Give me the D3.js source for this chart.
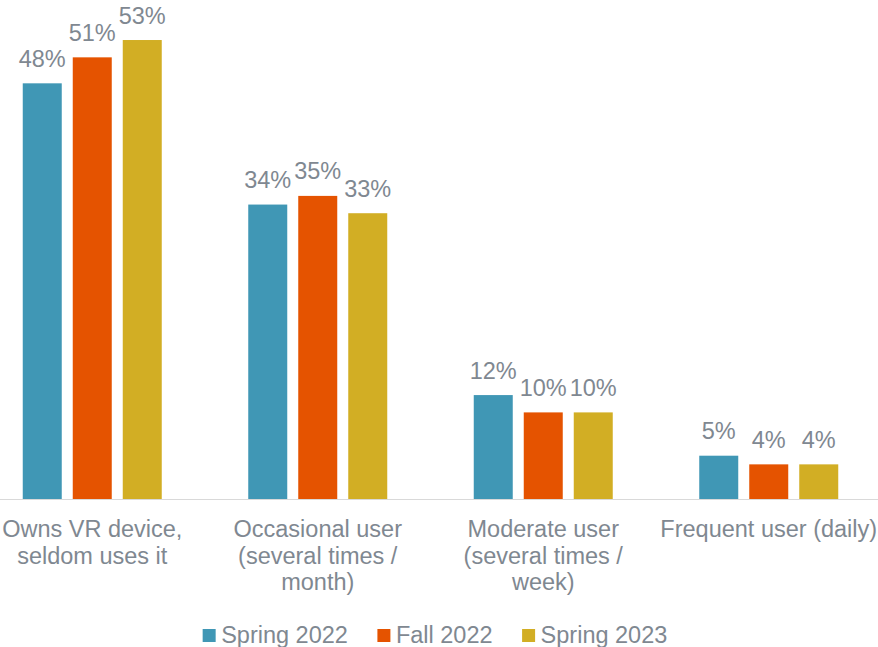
<!DOCTYPE html>
<html>
<head>
<meta charset="utf-8">
<script src="https://cdn.jsdelivr.net/npm/d3@7/dist/d3.min.js"></script>
<style>
  html, body { margin: 0; padding: 0; background: #ffffff; }
  svg { display: block; }
  text { font-family: "Liberation Sans", Arial, sans-serif; }
</style>
</head>
<body>
<svg id="chart" width="878" height="647"></svg>
<script>
// VR device usage by survey wave (share of owners)
const categories = [
  ["Owns VR device,", "seldom uses it"],
  ["Occasional user", "(several times /", "month)"],
  ["Moderate user", "(several times /", "week)"],
  ["Frequent user (daily)"]
];
const seriesNames = ["Spring 2022", "Fall 2022", "Spring 2023"];
const spring2022 = [48, 34, 12, 5];
const fall2022   = [51, 35, 10, 4];
const spring2023 = [53, 33, 10, 4];
const seriesValues = [spring2022, fall2022, spring2023];
const seriesColors = ["#4097b5", "#e55300", "#d2ae24"];

const W = 878, H = 647;
const textColor = "#7f8891";
const fontSize = 23.5;
const svg = d3.select("#chart");

const catIdx = categories.map((d, i) => i);
const x = d3.scaleBand().domain(catIdx).range([-20.5, 881.5]).padding(0);
const xInner = d3.scaleBand().domain(d3.range(seriesNames.length))
  .range([-75, 75]).paddingInner(0.22).paddingOuter(0.11);
const y = d3.scaleLinear().domain([0, 60]).range([499, 499 - 8.66 * 60]);

const rows = [];
seriesValues.forEach((vals, s) => vals.forEach((v, c) => rows.push({ s, c, v })));

// bars
svg.append("g").selectAll("rect").data(rows).join("rect")
  .attr("x", d => x(d.c) + x.bandwidth() / 2 + xInner(d.s))
  .attr("width", xInner.bandwidth())
  .attr("y", d => y(d.v))
  .attr("height", d => y(0) - y(d.v))
  .attr("fill", d => seriesColors[d.s]);

// value labels
svg.append("g").selectAll("text").data(rows).join("text")
  .attr("x", d => x(d.c) + x.bandwidth() / 2 + xInner(d.s) + xInner.bandwidth() / 2)
  .attr("y", d => y(d.v) - 16.5)
  .attr("text-anchor", "middle")
  .attr("fill", textColor)
  .attr("font-size", fontSize)
  .text(d => d.v + "%");

// category axis
const axis = svg.append("g").attr("transform", `translate(0,${y(0)})`)
  .call(d3.axisBottom(x).tickSize(0).tickFormat(""));
axis.select(".domain").attr("d", `M0,0.5H${W}`).attr("stroke", "#d9d9d9").attr("stroke-width", 1.2);

const catLabels = svg.append("g").selectAll("text").data(catIdx).join("text")
  .attr("text-anchor", "middle")
  .attr("fill", textColor)
  .attr("font-size", fontSize)
  .attr("x", c => x(c) + x.bandwidth() / 2)
  .attr("y", 537.3);
catLabels.each(function (c) {
  d3.select(this).selectAll("tspan").data(categories[c]).join("tspan")
    .attr("x", x(c) + x.bandwidth() / 2)
    .attr("dy", (d, i) => i === 0 ? 0 : 26.5)
    .text(d => d);
});

// legend
const legend = svg.append("g");
const items = legend.selectAll("g").data(seriesNames).join("g");
items.append("rect").attr("width", 13).attr("height", 13).attr("y", 629)
  .attr("fill", (d, i) => seriesColors[i]);
items.append("text").attr("x", 18.5).attr("y", 642.5)
  .attr("fill", textColor).attr("font-size", fontSize).text(d => d);
let offset = 0;
const gap = 29.5;
const widths = [];
items.each(function () {
  const w = 18.5 + d3.select(this).select("text").node().getComputedTextLength();
  widths.push(w);
});
const total = d3.sum(widths) + gap * (widths.length - 1);
let start = 435 - total / 2;
items.attr("transform", (d, i) => {
  const t = `translate(${start},0)`;
  start += widths[i] + gap;
  return t;
});
</script>
</body>
</html>
